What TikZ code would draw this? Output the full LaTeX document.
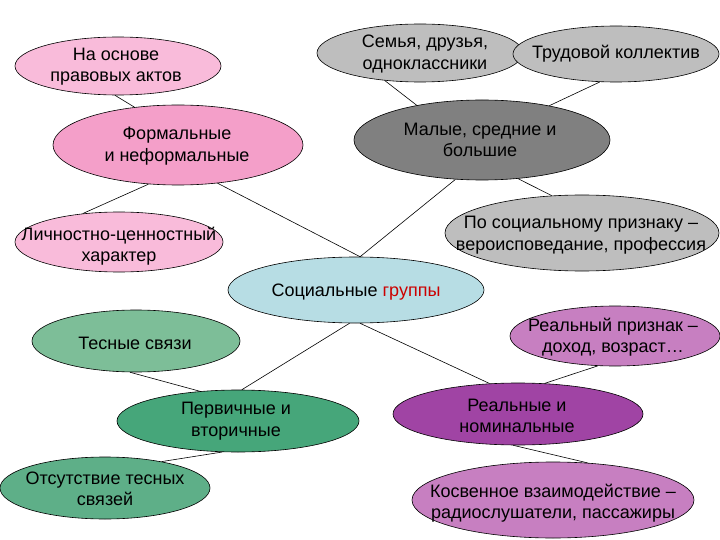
\documentclass[tikz,border=0pt]{standalone}
\usepackage{fontspec}
\setmainfont{Liberation Sans}
\usetikzlibrary{shapes.geometric}
\definecolor{pinkL}{HTML}{F9BBDA}
\definecolor{pinkM}{HTML}{F49FC9}
\definecolor{grayL}{HTML}{BEBEBE}
\definecolor{grayD}{HTML}{808080}
\definecolor{cyanL}{HTML}{B7DDE4}
\definecolor{greenL}{HTML}{7DBE98}
\definecolor{greenD}{HTML}{46A67A}
\definecolor{greenM}{HTML}{5EAF88}
\definecolor{purpL}{HTML}{C77FC1}
\definecolor{purpD}{HTML}{A044A4}
\definecolor{redT}{HTML}{CC0000}
\begin{document}
\begin{tikzpicture}[x=1pt,y=-1pt,
 ell/.style={ellipse, draw=black, line width=0.6pt, inner sep=0pt},
 txt/.style={align=center, font=\fontsize{18}{21.5}\selectfont, inner sep=0pt},
 link/.style={draw=black, line width=0.6pt}]
\useasboundingbox[fill=white] (0,0) rectangle (720,540);

% ellipses
\node[ell, fill=pinkL, minimum width=206pt, minimum height=58pt] (A) at (118,66) {};
\node[ell, fill=pinkM, minimum width=250pt, minimum height=80pt] (B) at (178,145) {};
\node[ell, fill=pinkL, minimum width=208pt, minimum height=60pt] (C) at (119,242) {};
\node[ell, fill=grayL, minimum width=206pt, minimum height=58pt] (D) at (420,53) {};
\node[ell, fill=grayL, minimum width=206pt, minimum height=56pt] (E) at (616,54) {};
\node[ell, fill=grayD, minimum width=256pt, minimum height=80pt] (F) at (482,140) {};
\node[ell, fill=grayL, minimum width=274pt, minimum height=76pt] (G) at (582,233) {};
\node[ell, fill=cyanL, minimum width=256pt, minimum height=66pt] (S) at (356,290) {};
\node[ell, fill=greenL, minimum width=208pt, minimum height=62pt] (H) at (136,341) {};
\node[ell, fill=greenD, minimum width=242pt, minimum height=62pt] (I) at (238,421) {};
\node[ell, fill=greenM, minimum width=210pt, minimum height=62pt] (J) at (105,488) {};
\node[ell, fill=purpL, minimum width=210pt, minimum height=60pt] (K) at (615,336) {};
\node[ell, fill=purpD, minimum width=250pt, minimum height=62pt] (L) at (518,414) {};
\node[ell, fill=purpL, minimum width=282pt, minimum height=76pt] (M) at (553,500) {};

% texts
\node[txt] (At) at (116,66.5) {На основе\\правовых актов};
\node[txt] (Bt) at (177,146) {Формальные\\и неформальные};
\node[txt] (Ct) at (119,246) {Личностно-ценностный\\характер};
\node[txt] (Dt) at (425,54) {Семья, друзья,\\одноклассники};
\node[txt] (Et) at (616,54) {Трудовой коллектив};
\node[txt] (Ft) at (480,140) {Малые, средние и\\большие};
\node[txt] (Gt) at (581,235) {По социальному признаку –\\вероисповедание, профессия};
\node[txt] (St) at (356,292) {Социальные \textcolor{redT}{группы}};
\node[txt] (Ht) at (135,343) {Тесные связи};
\node[txt] (It) at (236,421) {Первичные и\\вторичные};
\node[txt] (Jt) at (105,489) {Отсутствие тесных\\связей};
\node[txt] (Kt) at (613,337) {Реальный признак –\\доход, возраст…};
\node[txt] (Lt) at (517,416) {Реальные и\\номинальные};
\node[txt] (Mt) at (553,503) {Косвенное взаимодействие –\\радиослушатели, пассажиры};

% connectors
\draw[link] (A.-96) -- (B.139);
\draw[link] (B.-127) -- (C.142);
\draw[link] (B.-44) -- (S.83);
\draw[link] (D.-142) -- (F.152);
\draw[link] (E.-120) -- (F.27);
\draw[link] (F.-47) -- (G.129);
\draw[link] (F.-124) -- (S.83);
\draw[link] (H.-101) -- (I.142);
\draw[link] (I.83) -- (S.-101);
\draw[link] (I.-117) -- (J.25);
\draw[link] (S.-83) -- (L.133);
\draw[link] (K.-120) -- (L.49);
\draw[link] (L.-99) -- (M.47);
\end{tikzpicture}
\end{document}
